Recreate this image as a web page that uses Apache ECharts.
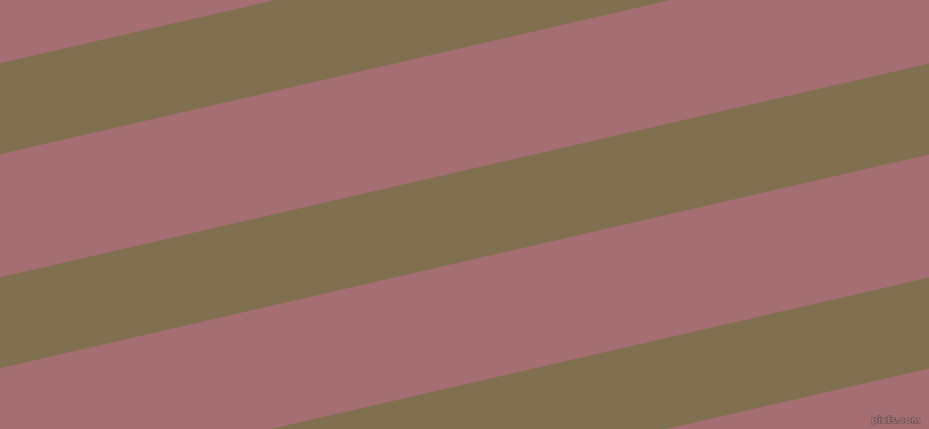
<!DOCTYPE html>
<html>
<head>
<meta charset="utf-8">
<title>stripes</title>
<script src="https://cdn.jsdelivr.net/npm/echarts@6/dist/echarts.min.js"></script>
<style>
  html, body { margin: 0; padding: 0; }
  #main { width: 929px; height: 429px; }
</style>
</head>
<body>
<div id="main"></div>
<script>
// band edges: y where each edge meets the left (x=0) and right (x=929) side
var bandTopLeft = [63.3, 277.3, 491.3];
var bandBottomLeft = [154.3, 368.3, 582.3];
var bandTopRight = [-150.4, 63.6, 277.6];
var bandBottomRight = [-59.4, 154.6, 368.6];
var xRange = [0, 929];
var yRange = [0, 429];

var bands = [];
for (var i = 0; i < bandTopLeft.length; i++) {
  bands.push([bandTopLeft[i], bandBottomLeft[i], bandTopRight[i], bandBottomRight[i]]);
}

var chart = echarts.init(document.getElementById('main'));
chart.setOption({
  backgroundColor: '#a56e73',
  animation: false,
  grid: { left: 0, right: 0, top: 0, bottom: 0 },
  xAxis: { type: 'value', min: xRange[0], max: xRange[1], show: false },
  yAxis: { type: 'value', min: yRange[0], max: yRange[1], inverse: true, show: false },
  series: [{
    type: 'custom',
    data: bands,
    renderItem: function (params, api) {
      var p1 = api.coord([xRange[0], api.value(0)]);
      var p2 = api.coord([xRange[1], api.value(2)]);
      var p3 = api.coord([xRange[1], api.value(3)]);
      var p4 = api.coord([xRange[0], api.value(1)]);
      return {
        type: 'polygon',
        shape: { points: [p1, p2, p3, p4] },
        style: { fill: '#817050' }
      };
    }
  }],
  graphic: [{
    type: 'text',
    right: 8,
    bottom: 3,
    style: {
      text: 'pixfs.com',
      fontFamily: 'DejaVu Sans',
      fontSize: 9,
      fontWeight: 'bold',
      fill: '#a8767b',
      stroke: '#5e4a4d',
      lineWidth: 1.2
    }
  }]
});
</script>
</body>
</html>
